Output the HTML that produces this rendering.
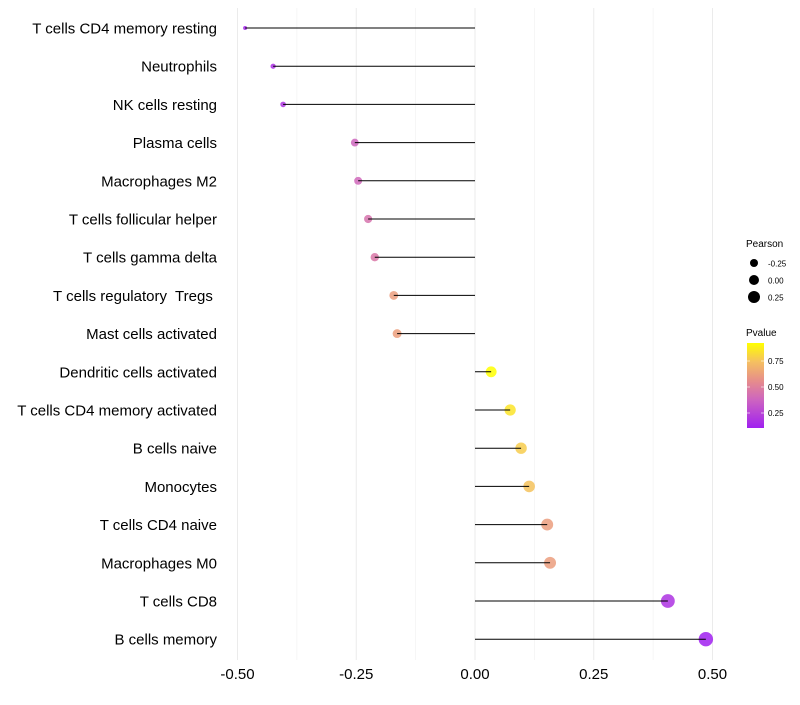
<!DOCTYPE html>
<html><head><meta charset="utf-8"><style>
body{margin:0;background:#fff;font-family:"Liberation Sans",sans-serif}
text{white-space:pre}
</style></head><body>
<svg id="chart" width="800" height="700" xmlns="http://www.w3.org/2000/svg">
<rect width="800" height="700" fill="#fff"/>
<g id="grid"></g><g id="marks"></g><g id="labels"></g>
<g id="legend">
<text x="746" y="247" font-size="10" fill="#000">Pearson</text>
<circle cx="754" cy="263" r="4" fill="#000"/>
<text x="768" y="266.5" font-size="8">-0.25</text>
<circle cx="754" cy="280" r="5" fill="#000"/>
<text x="768" y="283.5" font-size="8">0.00</text>
<circle cx="754" cy="297" r="6" fill="#000"/>
<text x="768" y="300.5" font-size="8">0.25</text>
<text x="746" y="336" font-size="10">Pvalue</text>
<defs><linearGradient id="cg" x1="0" y1="1" x2="0" y2="0">
<stop offset="0" stop-color="#a020f0"/><stop offset="0.33" stop-color="#cd64c0"/><stop offset="0.55" stop-color="#e68c8c"/><stop offset="0.78" stop-color="#f5c060"/><stop offset="1" stop-color="#ffff00"/></linearGradient></defs>
<rect x="747" y="343" width="17" height="85" fill="url(#cg)"/>
<line x1="747" y1="361" x2="750" y2="361" stroke="#fff" opacity=".6"/><line x1="761" y1="361" x2="764" y2="361" stroke="#fff" opacity=".6"/>
<line x1="747" y1="387" x2="750" y2="387" stroke="#fff" opacity=".6"/><line x1="761" y1="387" x2="764" y2="387" stroke="#fff" opacity=".6"/>
<line x1="747" y1="413" x2="750" y2="413" stroke="#fff" opacity=".6"/><line x1="761" y1="413" x2="764" y2="413" stroke="#fff" opacity=".6"/>
<text x="768" y="364" font-size="8">0.75</text>
<text x="768" y="390" font-size="8">0.50</text>
<text x="768" y="416" font-size="8">0.25</text>
</g>
</svg>
<script>
const categories=["T cells CD4 memory resting","Neutrophils","NK cells resting","Plasma cells","Macrophages M2","T cells follicular helper","T cells gamma delta","T cells regulatory  Tregs ","Mast cells activated","Dendritic cells activated","T cells CD4 memory activated","B cells naive","Monocytes","T cells CD4 naive","Macrophages M0","T cells CD8","B cells memory"];
const pearson=[-0.484,-0.425,-0.404,-0.253,-0.246,-0.225,-0.211,-0.171,-0.164,0.034,0.074,0.097,0.114,0.152,0.158,0.406,0.486];
const pvalue=[0.10,0.14,0.16,0.36,0.37,0.42,0.44,0.60,0.61,0.92,0.84,0.77,0.74,0.60,0.60,0.15,0.07];
const xTicks=[-0.5,-0.25,0,0.25,0.5];
const xTickLabels=["-0.50","-0.25","0.00","0.25","0.50"];
const NS="http://www.w3.org/2000/svg";
const x=v=>475+v*475;
const y=i=>28+i*38.2;
const rad=v=>Math.sqrt(4+(v+0.484)/(0.97)*(52-4));
const stops=[[0,[160,32,240]],[0.33,[205,100,192]],[0.55,[230,140,140]],[0.78,[245,192,96]],[1,[255,255,0]]];
function col(p){let t=(p-0.07)/(0.92-0.07);t=Math.max(0,Math.min(1,t));
for(let k=1;k<stops.length;k++){if(t<=stops[k][0]){const a=stops[k-1],b=stops[k],f=(t-a[0])/(b[0]-a[0]);
return "rgb("+a[1].map((c,j)=>Math.round(c+(b[1][j]-c)*f)).join(",")+")";}}return "rgb(255,255,0)";}
function mk(tag,at,parent){const e=document.createElementNS(NS,tag);for(const k in at)e.setAttribute(k,at[k]);document.getElementById(parent).appendChild(e);return e;}
for(let v=-0.5;v<=0.5001;v+=0.125){const major=Math.abs(v*4-Math.round(v*4))<1e-6;const l=mk("line",{x1:x(v),x2:x(v),y1:8,y2:660,stroke:major?"#ebebeb":"#f3f3f3","stroke-width":major?1:0.8},"grid");

}
xTicks.forEach((v,i)=>{const t=mk("text",{x:x(v),y:679,"font-size":15,"text-anchor":"middle",fill:"#000"},"labels");t.textContent=xTickLabels[i];

});
categories.forEach((c,i)=>{
const t=mk("text",{x:217,y:y(i)+5.5,"font-size":15,"text-anchor":"end",fill:"#000"},"labels");t.textContent=c;


const p=mk("circle",{cx:x(pearson[i]),cy:y(i),r:rad(pearson[i]),fill:col(pvalue[i]),"fill-opacity":0.85},"marks");


const s=mk("line",{x1:x(0),x2:x(pearson[i]),y1:y(i),y2:y(i),stroke:"#000","stroke-width":1},"marks");


});
</script>
</body></html>
